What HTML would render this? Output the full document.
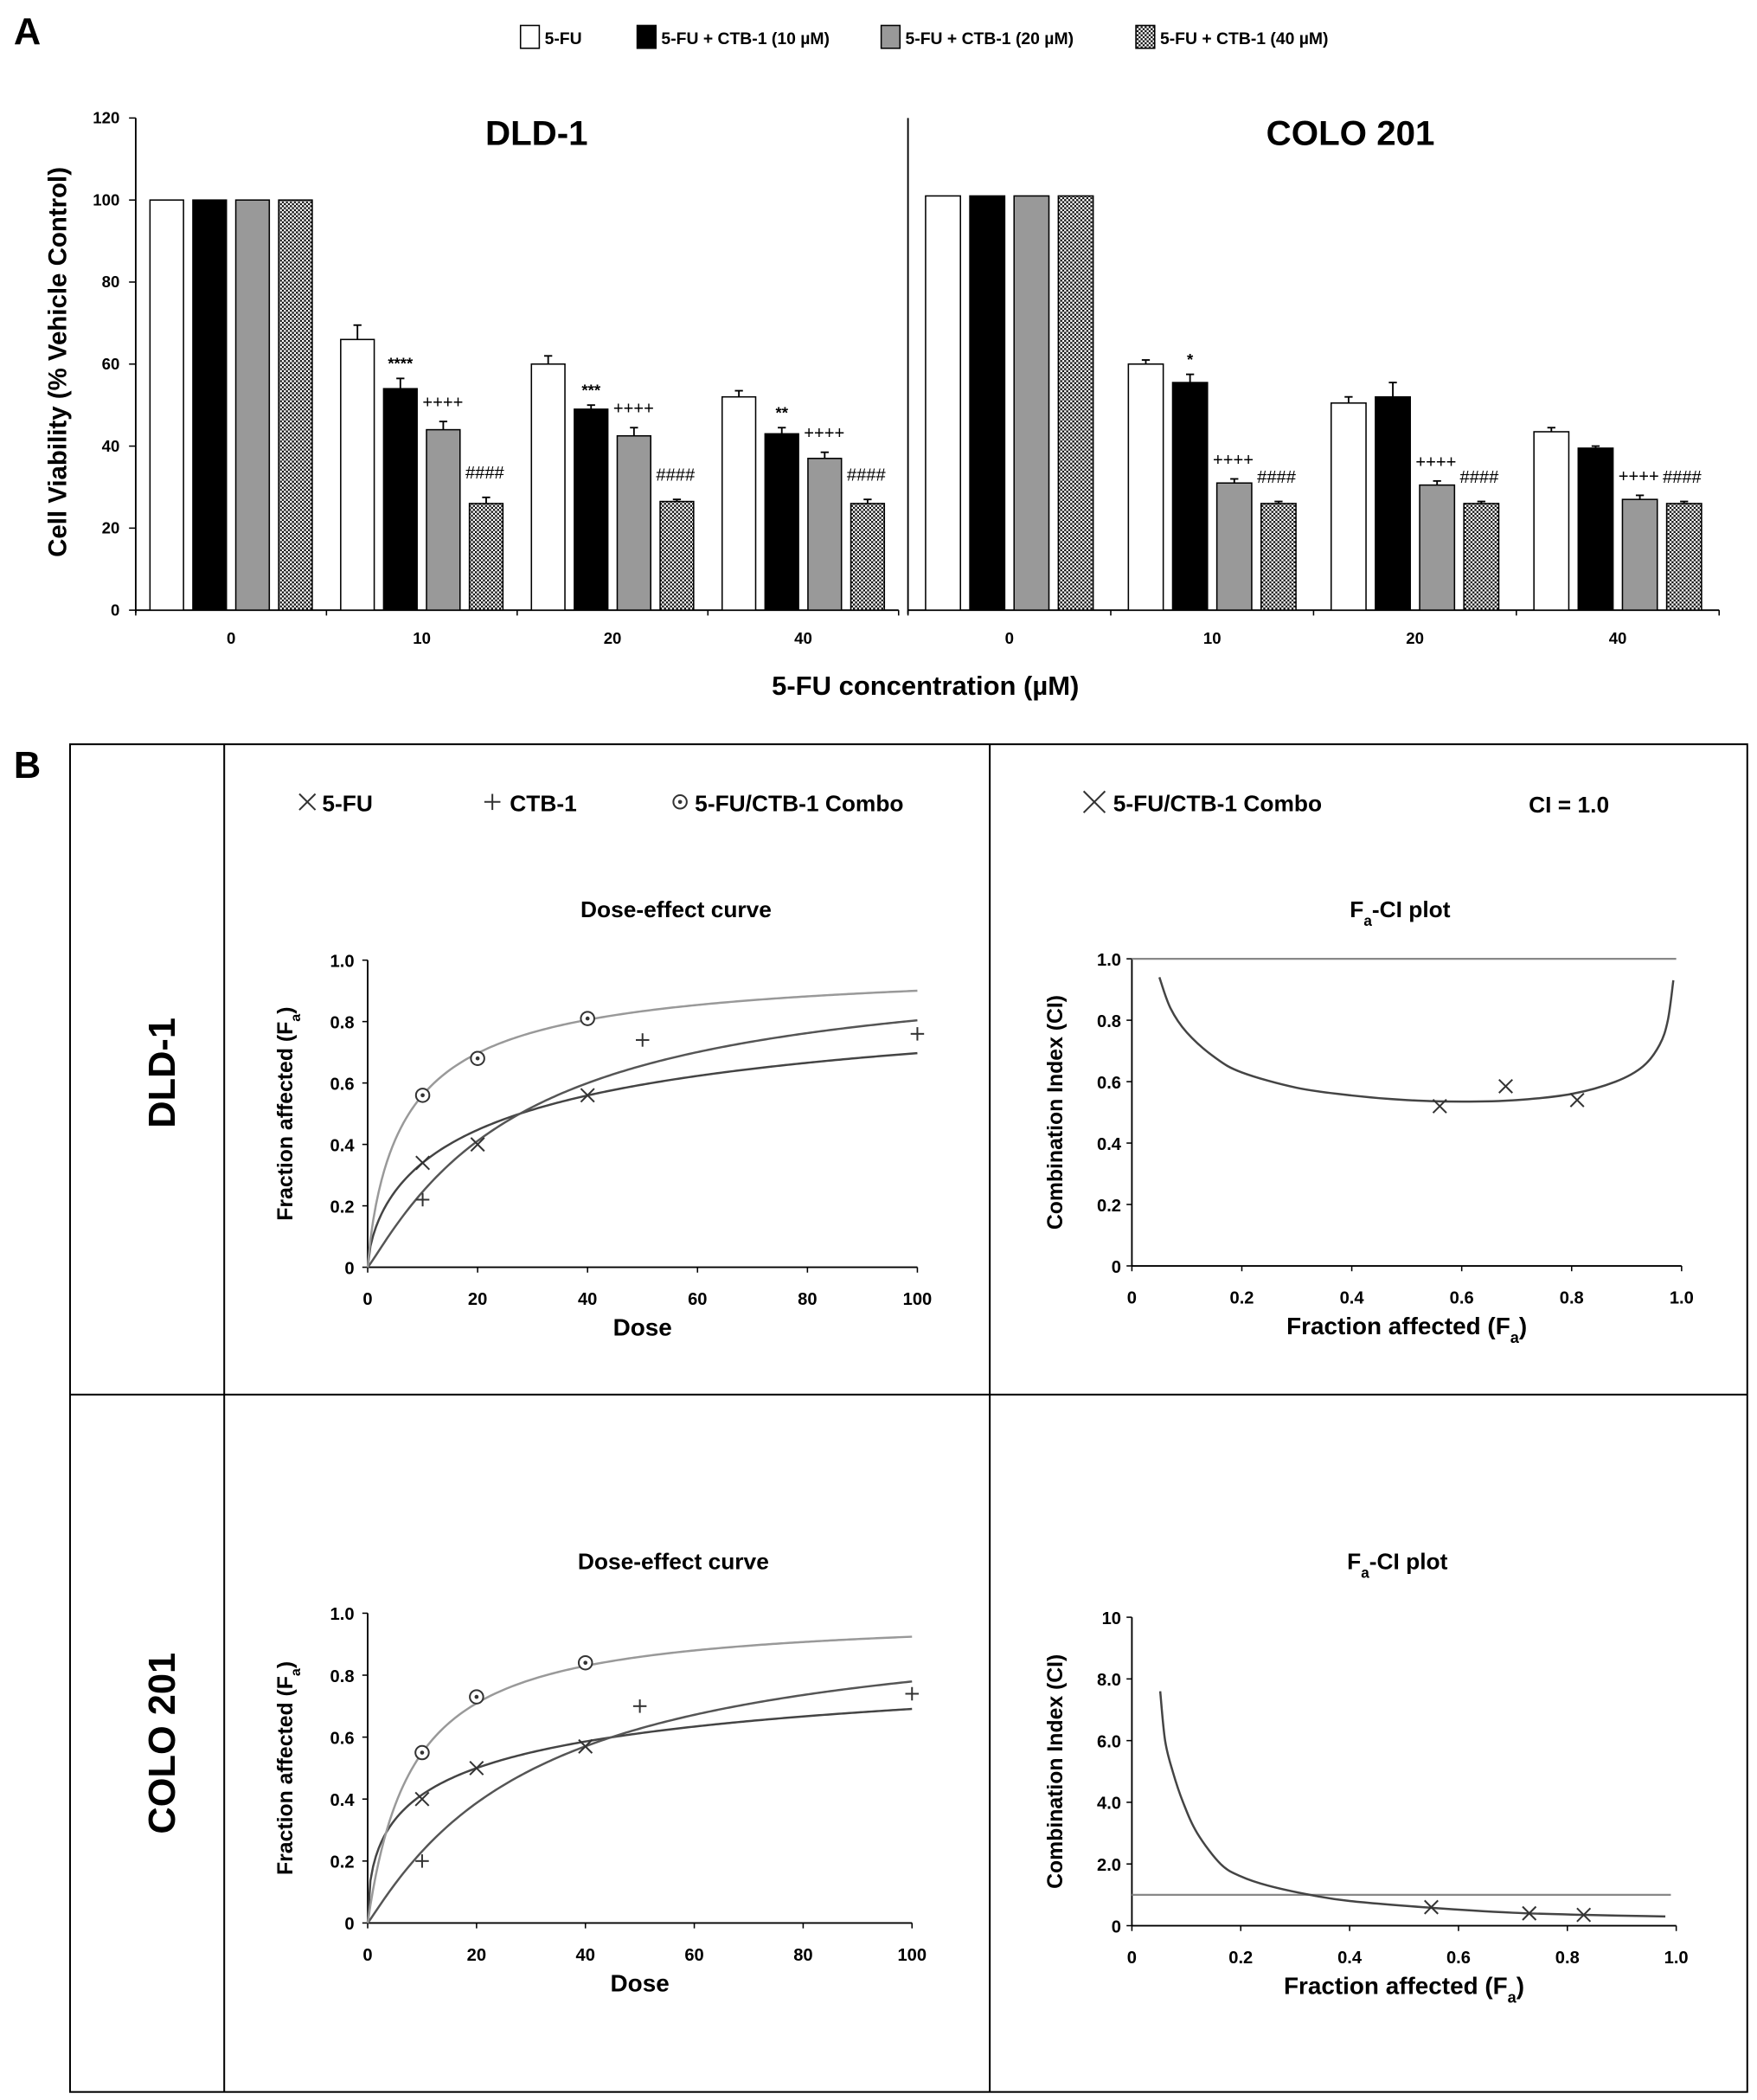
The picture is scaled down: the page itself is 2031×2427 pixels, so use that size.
<!DOCTYPE html>
<html><head><meta charset="utf-8"><style>
html,body{margin:0;padding:0;background:#fff;}
svg{display:block;font-family:"Liberation Sans",Arial,sans-serif;font-weight:bold;}
</style></head><body>
<svg id="fig" xmlns="http://www.w3.org/2000/svg" width="2031" height="2427" viewBox="0 0 1310 1566">
<defs>
<pattern id="chk" width="3" height="3" patternUnits="userSpaceOnUse">
<rect width="3" height="3" fill="#fff"/><rect width="1.5" height="1.5" fill="#111"/><rect x="1.5" y="1.5" width="1.5" height="1.5" fill="#111"/>
</pattern>
</defs>
<g id="root"></g>
</svg>
<script>
// ---------- Panel A data ----------
const doseCats = ["0","10","20","40"];
const seriesNames = ["5-FU","5-FU + CTB-1 (10 µM)","5-FU + CTB-1 (20 µM)","5-FU + CTB-1 (40 µM)"];
const dldVals = [[100,100,100,100],[66,54,44,26],[60,49,42.5,26.5],[52,43,37,26]];
const dldErr  = [[0,0,0,0],[3.5,2.5,2,1.5],[2,1,2,0.5],[1.5,1.5,1.5,1]];
const dldSig  = [["","","",""],["","****","++++","####"],["","***","++++","####"],["","**","++++","####"]];
const coloVals = [[101,101,101,101],[60,55.5,31,26],[50.5,52,30.5,26],[43.5,39.5,27,26]];
const coloErr  = [[0,0,0,0],[1,2,1,0.5],[1.5,3.5,1,0.5],[1,0.5,1,0.5]];
const coloSig  = [["","","",""],["","*","++++","####"],["","","++++","####"],["","","++++","####"]];
const yTicksA = [0,20,40,60,80,100,120];
// ---------- Panel B data ----------
// median-effect params [Dm, m]
const dldFit = [[27.7,0.65],[27.7,1.1],[7.5,0.85]];
const coloFit = [[20,0.5],[30.7,1.07],[8.2,1.0]];
const dldFuPts = [[10,0.34],[20,0.40],[40,0.56]];
const dldCtbPts = [[10,0.22],[50,0.74],[100,0.76]];
const dldComboPts = [[10,0.56],[20,0.68],[40,0.81]];
const coloFuPts = [[10,0.40],[20,0.50],[40,0.57]];
const coloCtbPts = [[10,0.20],[50,0.70],[100,0.74]];
const coloComboPts = [[10,0.55],[20,0.73],[40,0.84]];
const dldCiFa = [0.05,0.07,0.1,0.15,0.2,0.3,0.4,0.5,0.6,0.7,0.8,0.88,0.93,0.96,0.975,0.985];
const dldCiVal = [0.94,0.84,0.76,0.68,0.63,0.58,0.555,0.54,0.535,0.54,0.56,0.6,0.65,0.72,0.8,0.93];
const dldCiPts = [[0.56,0.52],[0.68,0.585],[0.81,0.54]];
const coloCiFa = [0.052,0.061,0.075,0.094,0.12,0.163,0.2,0.25,0.327,0.4,0.55,0.7,0.83,0.98];
const coloCiVal = [7.6,6.0,5.0,4.0,3.0,2.0,1.6,1.3,1.0,0.8,0.58,0.42,0.35,0.3];
const coloCiPts = [[0.55,0.6],[0.73,0.4],[0.83,0.35]];
const doseTicks = [0,20,40,60,80,100];
const faTicks = [0,0.2,0.4,0.6,0.8,1.0];
const faTickLabels = ["0","0.2","0.4","0.6","0.8","1.0"];
const ciTicksD = [0,0.2,0.4,0.6,0.8,1.0];
const ciTickLabelsD = ["0","0.2","0.4","0.6","0.8","1.0"];
const ciTicksC = [0,2,4,6,8,10];
const ciTickLabelsC = ["0","2.0","4.0","6.0","8.0","10"];

const NS="http://www.w3.org/2000/svg";
const root=document.getElementById('root');
function el(tag,attrs,parent,text){const e=document.createElementNS(NS,tag);for(const k in attrs)e.setAttribute(k,attrs[k]);if(text!==undefined)e.textContent=text;(parent||root).appendChild(e);return e;}

// ---------- Panel A ----------
el('text',{x:10,y:33,'font-size':28,},root,'A');
const legFills=['#fff','#000','#999','url(#chk)'];
const legX=[388,475,657,847];
for(let i=0;i<4;i++){
  const g=el('g',{});
  
  
  el('rect',{x:legX[i],y:19,width:14,height:17,fill:legFills[i],stroke:'#000','stroke-width':1},g);
  el('text',{x:legX[i]+18,y:33,'font-size':12.5},g,seriesNames[i]);
}
const A0=455, Atop=88;
const yA=v=>A0-(v/120)*(A0-Atop);
el('line',{x1:101,y1:Atop,x2:101,y2:A0+2,stroke:'#000','stroke-width':1.2,});
yTicksA.forEach(t=>{el('line',{x1:96,y1:yA(t),x2:101,y2:yA(t),stroke:'#000'});el('text',{x:89,y:yA(t)+4,'font-size':12,'text-anchor':'end'},root,String(t));});
el('text',{x:0,y:0,'font-size':19,'text-anchor':'middle',transform:'translate(49,270) rotate(-90)',},root,'Cell Viability (% Vehicle Control)');
el('line',{x1:677,y1:Atop,x2:677,y2:A0+3,stroke:'#000','stroke-width':1.2,});
el('text',{x:400,y:108,'font-size':26,'text-anchor':'middle',},root,'DLD-1');
el('text',{x:1007,y:108,'font-size':26,'text-anchor':'middle',},root,'COLO 201');
el('text',{x:690,y:518,'font-size':20,'text-anchor':'middle',},root,'5-FU  concentration (µM)');

function barPanel(name,x0,x1,vals,errs,sigs,step,w){
  const gw=(x1-x0)/4;
  el('line',{x1:x0,y1:A0,x2:x1,y2:A0,stroke:'#000','stroke-width':1.2,});
  for(let k=0;k<=4;k++){el('line',{x1:x0+k*gw,y1:A0,x2:x0+k*gw,y2:A0+4,stroke:'#000'});}
  for(let g=0;g<4;g++){
    const cx=x0+gw*(g+0.5);
    el('text',{x:cx,y:480,'font-size':12,'text-anchor':'middle'},root,doseCats[g]);
    for(let i=0;i<4;i++){
      const bx=cx+(i-1.5)*step-w/2, top=yA(vals[g][i]);
      const r=el('rect',{x:bx,y:top,width:w,height:A0-top,fill:legFills[i],stroke:'#000','stroke-width':1});
      
      
      if(errs[g][i]>0){const et=yA(vals[g][i]+errs[g][i]);
        el('line',{x1:bx+w/2,y1:top,x2:bx+w/2,y2:et,stroke:'#000','stroke-width':1.2});
        el('line',{x1:bx+w/2-3,y1:et,x2:bx+w/2+3,y2:et,stroke:'#000','stroke-width':1.2});}
      const s=sigs[g][i];
      if(s){const et=yA(vals[g][i]+errs[g][i]);
        if(i===1) el('text',{x:bx+w/2,y:et-7,'font-size':12,'text-anchor':'middle'},root,s);
        else if(i===2) el('text',{x:bx-3,y:et-10,'font-size':13,'font-weight':'normal'},root,s);
        else el('text',{x:bx-3,y:et-14,'font-size':13,'font-weight':'normal'},root,s);}
    }
  }
}
barPanel('dld1',101,670,dldVals,dldErr,dldSig,32,25);
barPanel('colo201',677,1282,coloVals,coloErr,coloSig,33,26);

// ---------- Panel B ----------
el('text',{x:10,y:580,'font-size':28,},root,'B');
el('rect',{x:52,y:555,width:1251,height:1005,fill:'none',stroke:'#000','stroke-width':1.3,});
el('line',{x1:167,y1:555,x2:167,y2:1560,stroke:'#000','stroke-width':1.3});
el('line',{x1:738,y1:555,x2:738,y2:1560,stroke:'#000','stroke-width':1.3});
el('line',{x1:52,y1:1040,x2:1303,y2:1040,stroke:'#000','stroke-width':1.3});
el('text',{x:0,y:0,'font-size':28,'text-anchor':'middle',transform:'translate(130,800) rotate(-90)',},root,'DLD-1');
el('text',{x:0,y:0,'font-size':28,'text-anchor':'middle',transform:'translate(130,1300) rotate(-90)',},root,'COLO 201');

function mkX(x,y,s,col,p){const g=el('g',{},p);el('line',{x1:x-s,y1:y-s,x2:x+s,y2:y+s,stroke:col||'#333','stroke-width':1.3},g);el('line',{x1:x-s,y1:y+s,x2:x+s,y2:y-s,stroke:col||'#333','stroke-width':1.3},g);return g;}
function mkP(x,y,s,p){const g=el('g',{},p);el('line',{x1:x-s,y1:y,x2:x+s,y2:y,stroke:'#333','stroke-width':1.3},g);el('line',{x1:x,y1:y-s,x2:x,y2:y+s,stroke:'#333','stroke-width':1.3},g);return g;}
function mkO(x,y,p){const g=el('g',{},p);el('circle',{cx:x,cy:y,r:5,fill:'#fff',stroke:'#333','stroke-width':1.3},g);el('circle',{cx:x,cy:y,r:1.5,fill:'#333'},g);return g;}

let lg=el('g',{});mkX(229,598,6,'#333',lg);el('text',{x:240,y:605,'font-size':17},lg,'5-FU');
lg=el('g',{});mkP(367,598,6,lg);el('text',{x:380,y:605,'font-size':17},lg,'CTB-1');
lg=el('g',{});mkO(507,598,lg);el('text',{x:518,y:605,'font-size':17},lg,'5-FU/CTB-1 Combo');
lg=el('g',{});mkX(816,598,8,'#333',lg);el('text',{x:830,y:605,'font-size':17},lg,'5-FU/CTB-1 Combo');
el('text',{x:1140,y:606,'font-size':17,},root,'CI = 1.0');

function faTitle(x,y,fs,parts,parent,rot){
  const t=el('text',{x:x,y:y,'font-size':fs,'text-anchor':'middle'},parent);
  if(rot) t.setAttribute('transform',rot);
  el('tspan',{},t,parts[0]);
  el('tspan',{'baseline-shift':'sub','font-size':fs*0.65},t,parts[1]);
  el('tspan',{},t,parts[2]);
  return t;
}

function doseEffect(name,x0,x1,y0,y1,fit,fuPts,ctbPts,comboPts,titleY){
  const g=el('g',{});
  
  
  const X=d=>x0+(d/100)*(x1-x0), Y=f=>y0-f*(y0-y1);
  el('text',{x:(x0+x1)/2+25,y:titleY,'font-size':17,'text-anchor':'middle'},g,'Dose-effect curve');
  el('line',{x1:x0,y1:y1,x2:x0,y2:y0,stroke:'#000','stroke-width':1.2},g);
  el('line',{x1:x0,y1:y0,x2:x1,y2:y0,stroke:'#000','stroke-width':1.2},g);
  faTicks.forEach((t,i)=>{el('line',{x1:x0-4,y1:Y(t),x2:x0,y2:Y(t),stroke:'#000'},g);el('text',{x:x0-10,y:Y(t)+5,'font-size':13,'text-anchor':'end'},g,faTickLabels[i]);});
  doseTicks.forEach(t=>{el('line',{x1:X(t),y1:y0,x2:X(t),y2:y0+4,stroke:'#000'},g);el('text',{x:X(t),y:y0+28,'font-size':13,'text-anchor':'middle'},g,String(t));});
  el('text',{x:(x0+x1)/2,y:y0+51,'font-size':18,'text-anchor':'middle'},g,'Dose');
  faTitle(0,0,16,['Fraction affected (F','a',')'],g,'translate('+(x0-56)+','+((y0+y1)/2)+') rotate(-90)');
  const cols=['#444','#555','#999'];
  fit.forEach((p,k)=>{let d='';for(let i=0;i<=200;i++){const D=i*0.5;const f=D===0?0:1/(1+Math.pow(p[0]/D,p[1]));d+=(i?'L':'M')+X(D).toFixed(2)+','+Y(f).toFixed(2);}
    const pa=el('path',{d:d,fill:'none',stroke:cols[k],'stroke-width':1.6},g);
    
    });
  fuPts.forEach(p=>{const m=mkX(X(p[0]),Y(p[1]),5,'#333',g);});
  ctbPts.forEach(p=>{const m=mkP(X(p[0]),Y(p[1]),5,g);});
  comboPts.forEach(p=>{const m=mkO(X(p[0]),Y(p[1]),g);});
}
function smoothPath(pts){let d='M'+pts[0][0]+','+pts[0][1];for(let i=0;i<pts.length-1;i++){const p0=pts[i-1]||pts[i],p1=pts[i],p2=pts[i+1],p3=pts[i+2]||p2;
  d+='C'+(p1[0]+(p2[0]-p0[0])/6)+','+(p1[1]+(p2[1]-p0[1])/6)+' '+(p2[0]-(p3[0]-p1[0])/6)+','+(p2[1]-(p3[1]-p1[1])/6)+' '+p2[0]+','+p2[1];}return d;}
function faCI(name,x0,x1,y0,y1,ymax,ticks,tickLabels,faArr,ciArr,pts,titleY){
  const g=el('g',{});
  
  
  const X=f=>x0+f*(x1-x0), Y=c=>y0-(c/ymax)*(y0-y1);
  faTitle((x0+x1)/2-5,titleY,17,['F','a','-CI plot'],g);
  el('line',{x1:x0,y1:y1,x2:x0,y2:y0,stroke:'#000','stroke-width':1.2},g);
  el('line',{x1:x0,y1:y0,x2:x1,y2:y0,stroke:'#000','stroke-width':1.2},g);
  ticks.forEach((t,i)=>{el('line',{x1:x0-4,y1:Y(t),x2:x0,y2:Y(t),stroke:'#000'},g);el('text',{x:x0-8,y:Y(t)+5,'font-size':13,'text-anchor':'end'},g,tickLabels[i]);});
  faTicks.forEach((t,i)=>{el('line',{x1:X(t),y1:y0,x2:X(t),y2:y0+4,stroke:'#000'},g);el('text',{x:X(t),y:y0+28,'font-size':13,'text-anchor':'middle'},g,faTickLabels[i]);});
  faTitle((x0+x1)/2,y0+51,18,['Fraction affected (F','a',')'],g);
  el('text',{x:0,y:0,'font-size':16,'text-anchor':'middle',transform:'translate('+(x0-52)+','+((y0+y1)/2)+') rotate(-90)'},g,'Combination Index (CI)');
  const ref=el('line',{x1:x0,y1:Y(1),x2:x1-4,y2:Y(1),stroke:'#888','stroke-width':1.5},g);
  
  
  const cp=el('path',{d:smoothPath(faArr.map((f,i)=>[X(f),Y(ciArr[i])])),fill:'none',stroke:'#444','stroke-width':1.6},g);
  
  
  pts.forEach(p=>{const m=mkX(X(p[0]),Y(p[1]),5,'#333',g);});
}
doseEffect('dld1',274,684,945,716,dldFit,dldFuPts,dldCtbPts,dldComboPts,684);
faCI('dld1',844,1254,944,715,1.0,ciTicksD,ciTickLabelsD,dldCiFa,dldCiVal,dldCiPts,684);
doseEffect('colo201',274,680,1434,1203,coloFit,coloFuPts,coloCtbPts,coloComboPts,1170);
faCI('colo201',844,1250,1436,1206,10,ciTicksC,ciTickLabelsC,coloCiFa,coloCiVal,coloCiPts,1170);
</script>
</body></html>
